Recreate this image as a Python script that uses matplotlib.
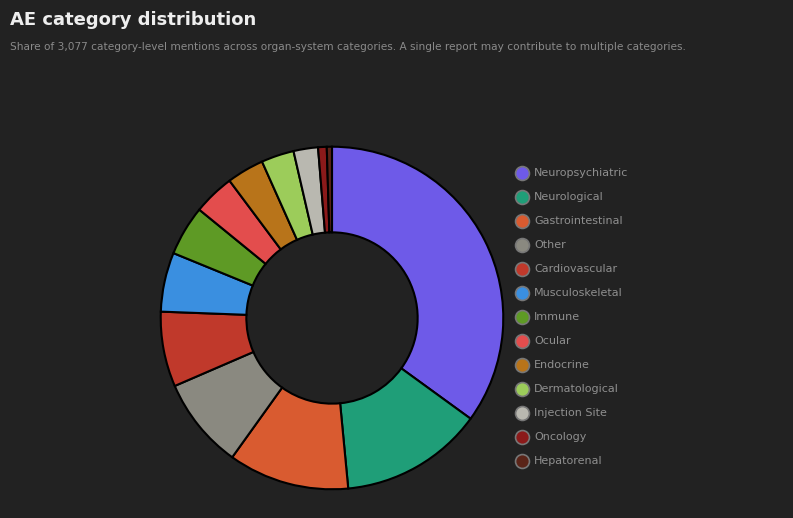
import matplotlib
matplotlib.use("Agg")
import matplotlib.pyplot as plt
from matplotlib.lines import Line2D

categories = ["Neuropsychiatric","Neurological","Gastrointestinal","Other","Cardiovascular",
              "Musculoskeletal","Immune","Ocular","Endocrine","Dermatological",
              "Injection Site","Oncology","Hepatorenal"]
values = [1077, 415, 351, 265, 218, 172, 145, 120, 108, 95, 71, 25, 15]
colors = ["#6e5ae8","#1f9e78","#d95b30","#8a8980","#c0392b","#3a8fe0","#5e9a25",
          "#e34d4d","#b8741a","#9ccc5a","#b9b8b0","#8b1a1a","#5a2418"]

W, H = 793, 518
fig = plt.figure(figsize=(W/100, H/100), dpi=100)
bg = "#222222"
fig.patch.set_facecolor(bg)

cx, cy, R = 332, 318, 173
ax = fig.add_axes([(cx-R)/W, (H-cy-R)/H, 2*R/W, 2*R/H])
ax.pie(values, colors=colors, startangle=90, counterclock=False, radius=1,
       wedgeprops=dict(width=0.5, edgecolor="black", linewidth=1.5))
ax.set_xlim(-1.01, 1.01); ax.set_ylim(-1.01, 1.01)
ax.set_aspect("equal")
ax.axis("off")

fig.text(10/W, 1-20/H, "AE category distribution", color="#eeeeee", fontsize=13,
         fontweight="bold", va="center", ha="left")
fig.text(10/W, 1-47/H, "Share of 3,077 category-level mentions across organ-system categories. A single report may contribute to multiple categories.",
         color="#8a8a8a", fontsize=7.6, va="center", ha="left")

for i, (c, col) in enumerate(zip(categories, colors)):
    y = 173 + 24*i
    fig.add_artist(Line2D([522/W], [1-y/H], marker="o", markersize=10, color=col,
                          markeredgecolor="#777777", markeredgewidth=1.2,
                          transform=fig.transFigure, linestyle="none"))
    fig.text(534/W, 1-y/H, c, color="#8f8f8f", fontsize=8, va="center", ha="left")

fig.savefig("out.png", dpi=100, facecolor=bg)
